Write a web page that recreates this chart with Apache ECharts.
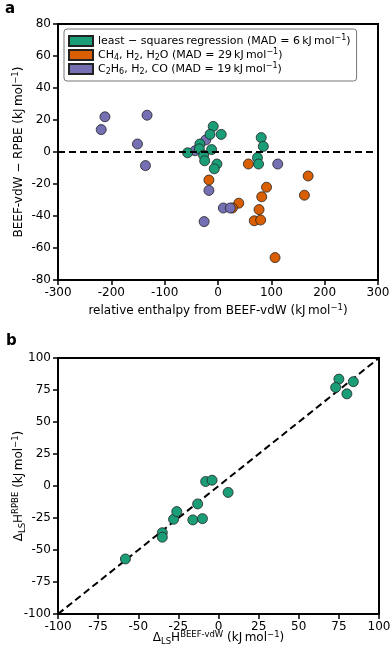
<!DOCTYPE html>
<html>
<head>
<meta charset="utf-8">
<script src="https://cdn.jsdelivr.net/npm/echarts@6/dist/echarts.min.js"></script>
<style>
  html, body { margin: 0; padding: 0; background: #fff; }
  #chart { width: 392px; height: 654px; }
</style>
</head>
<body>
<div id="chart"></div>
<script>
// panel a: relative enthalpy (BEEF-vdW) vs BEEF-vdW - RPBE difference
var lsqX = [-9, -15, 6, -34, -35, -12, -57, -27, -25, -2, -7, 81, 85, 74, 76]
var lsqY = [16, 11, 11, 5, 2, 1.5, -0.5, -2, -5.5, -7.5, -10.5, 9, 3.5, -3.5, -7.5]
var ch4X = [57, -17, 169, 91, 82, 162, 39, 27, 77, 68, 80, 107]
var ch4Y = [-7.5, -17.5, -15, -22, -28, -27, -32, -35, -36, -43, -42.5, -66]
var c2h6X = [-212, -133, -219, -151, -136, -23, -43, -17, 10, 23, -26, 112]
var c2h6Y = [22, 23, 14, 5, -8.5, 7.5, 0.8, -24, -35, -35, -43.5, -7.5]

// panel b: least-squares corrected reaction enthalpies
var lsbX = [-58, -35, -35, -28, -26, -16, -10, -13, -8, -4, 6, 75, 73, 84, 80]
var lsbY = [-57, -36.5, -40, -26, -20, -26.5, -25.5, -14, 3.5, 4.5, -5, 83.5, 77, 81.5, 72]

var xTicksA = { min: -300, max: 300, interval: 100 }
var yTicksA = { min: -80, max: 80, interval: 20 }
var ticksB = { min: -100, max: 100, interval: 25 }

var GREEN = '#1b9e77'
var ORANGE = '#d95f02'
var PURPLE = '#7570b3'
var FONT = 'DejaVu Sans'

function zip(xs, ys) {
  return xs.map(function (x, i) { return [x, ys[i]] })
}

var rich = {
  sup: { fontSize: 8.5, verticalAlign: 'top', lineHeight: 8, fontFamily: FONT, color: '#000' },
  sub: { fontSize: 8.5, verticalAlign: 'bottom', lineHeight: 8, fontFamily: FONT, color: '#000' }
}
var legendRich = {
  sup: { fontSize: 8, verticalAlign: 'top', lineHeight: 7, fontFamily: FONT, color: '#000' },
  sub: { fontSize: 8, verticalAlign: 'bottom', lineHeight: 7, fontFamily: FONT, color: '#000' }
}

var legendText = {
  lsq: 'least − squares\u2009regression (MAD = 6\u2009kJ\u2009mol{sup|−1})',
  ch4: 'CH{sub|4}, H{sub|2}, H{sub|2}O (MAD = 29\u2009kJ\u2009mol{sup|−1})',
  c2h6: 'C{sub|2}H{sub|6}, H{sub|2}, CO (MAD = 19\u2009kJ\u2009mol{sup|−1})'
}

function axisStyle(extra) {
  return Object.assign({
    type: 'value',
    splitLine: { show: false },
    axisLine: { show: true, onZero: false, lineStyle: { color: '#000', width: 2 } },
    axisTick: { show: true, length: 5, lineStyle: { color: '#000', width: 1.5 } },
    axisLabel: { color: '#000', fontSize: 12, fontFamily: FONT, margin: 7 },
    nameLocation: 'middle',
    nameMoveOverlap: false,
    nameTextStyle: { color: '#000', fontSize: 12, fontFamily: FONT, lineHeight: 16, rich: rich }
  }, extra)
}

function scatter(name, data, color, z, xi, yi) {
  return {
    name: name,
    type: 'scatter',
    xAxisIndex: xi,
    yAxisIndex: yi,
    data: data,
    symbolSize: 10,
    z: z,
    itemStyle: { color: color, borderColor: '#222', borderWidth: 0.8, opacity: 1 }
  }
}

var chart = echarts.init(document.getElementById('chart'), null, { renderer: 'canvas' })

chart.setOption({
  animation: false,
  textStyle: { fontFamily: FONT },
  title: [
    { text: 'a', left: 0, top: -3, textStyle: { fontSize: 15, fontWeight: 'bold', color: '#000', fontFamily: FONT } },
    { text: 'b', left: 1, top: 329, textStyle: { fontSize: 15, fontWeight: 'bold', color: '#000', fontFamily: FONT } }
  ],
  grid: [
    { left: 58, top: 24, width: 320, height: 256, show: true, borderColor: '#000', borderWidth: 2, outerBoundsMode: 'none', containLabel: false },
    { left: 58, top: 358, width: 321, height: 256, show: true, borderColor: '#000', borderWidth: 2, outerBoundsMode: 'none', containLabel: false }
  ],
  legend: {
    data: ['lsq', 'ch4', 'c2h6'],
    orient: 'vertical',
    left: 64,
    top: 29,
    icon: 'rect',
    itemWidth: 24,
    itemHeight: 10,
    itemGap: 0,
    padding: [5, 6, 5, 4],
    backgroundColor: '#fff',
    borderColor: '#777',
    borderWidth: 1,
    borderRadius: 3,
    formatter: function (name) { return legendText[name] },
    textStyle: { color: '#000', fontSize: 11, fontFamily: FONT, lineHeight: 14, rich: legendRich }
  },
  xAxis: [
    axisStyle(Object.assign({
      gridIndex: 0,
      name: 'relative enthalpy from BEEF-vdW (kJ\u2009mol{sup|−1})',
      nameGap: 23
    }, xTicksA)),
    axisStyle(Object.assign({
      gridIndex: 1,
      name: 'Δ{sub|LS}H{sup|BEEF-vdW} (kJ\u2009mol{sup|−1})',
      nameGap: 16
    }, ticksB))
  ],
  yAxis: [
    axisStyle(Object.assign({
      gridIndex: 0,
      name: 'BEEF-vdW − RPBE (kJ\u2009mol{sup|−1})',
      nameGap: 31
    }, yTicksA)),
    axisStyle(Object.assign({
      gridIndex: 1,
      name: 'Δ{sub|LS}H{sup|RPBE} (kJ\u2009mol{sup|−1})',
      nameGap: 31
    }, ticksB))
  ],
  series: [
    scatter('lsq', zip(lsqX, lsqY), GREEN, 4, 0, 0),
    scatter('ch4', zip(ch4X, ch4Y), ORANGE, 2, 0, 0),
    scatter('c2h6', zip(c2h6X, c2h6Y), PURPLE, 3, 0, 0),
    {
      type: 'scatter',
      xAxisIndex: 0,
      yAxisIndex: 0,
      data: [],
      z: 1,
      markLine: {
        silent: true,
        symbol: 'none',
        label: { show: false },
        lineStyle: { color: '#000', width: 2, type: [7, 4] },
        data: [{ yAxis: 0 }]
      }
    },
    Object.assign(scatter('lsb', zip(lsbX, lsbY), GREEN, 4, 1, 1), {
      markLine: {
        silent: true,
        symbol: 'none',
        z: 1,
        label: { show: false },
        lineStyle: { color: '#000', width: 2, type: [7, 4] },
        data: [[{ coord: [ticksB.min, ticksB.min] }, { coord: [ticksB.max, ticksB.max] }]]
      }
    })
  ]
})
</script>
</body>
</html>
